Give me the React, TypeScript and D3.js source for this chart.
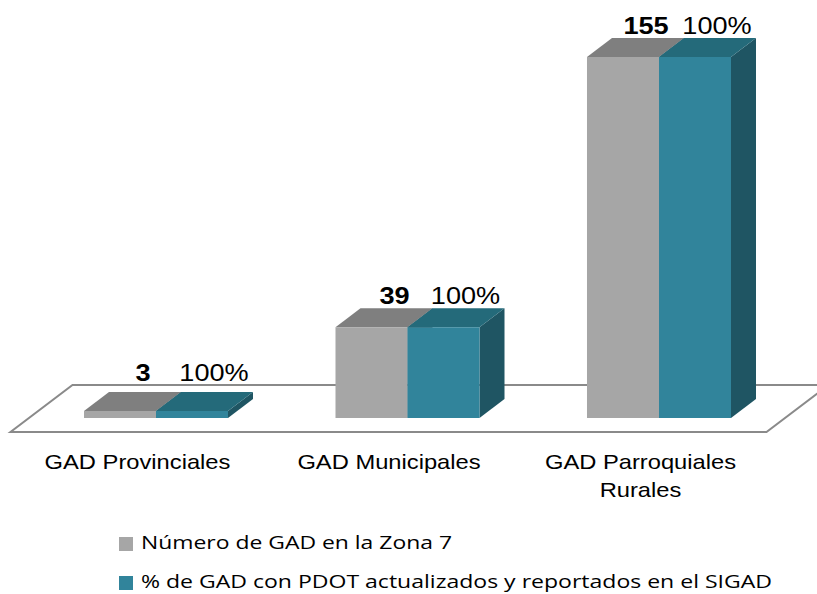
import React from "react";
import * as d3 from "d3";

const categories = ["GAD Provinciales", "GAD Municipales", "GAD Parroquiales Rurales"];
const categoryLines = [["GAD Provinciales"], ["GAD Municipales"], ["GAD Parroquiales", "Rurales"]];
const seriesNames = [
  "Número de GAD en la Zona 7",
  "% de GAD con PDOT actualizados y reportados en el SIGAD",
];
const countValues = [3, 39, 155];
const percentValues = [100, 100, 100];

const W = 817;
const H = 594;
const SX = 1.13; // horizontal stretch of the original rendering

const colors = {
  gray: { front: "#a6a6a6", top: "#7f7f7f", side: "#6b6b6b" },
  teal: { front: "#31849b", top: "#246a7a", side: "#1f5563" },
};

export default function App() {
  const x = d3.scaleBand<string>().domain(categories).range([84, 731]).paddingInner(0.4274).paddingOuter(0);
  const s = d3.scaleBand<number>().domain([0, 1]).range([0, x.bandwidth()]).padding(0);
  const y = d3.scaleLinear().domain([0, 155]).range([418, 57]);
  const DX = 25;
  const DY = 19;
  const proj = (px: number, py: number, z: number): [number, number] => [px + z * DX, py - z * DY];

  const base = y(0);
  const zFront = -0.74;
  const zBack = 1.74;
  const fx0 = 84 - 55;
  const fx1 = 731 + 54;
  const floorPts = [proj(fx0, base, zFront), proj(fx1, base, zFront), proj(fx1, base, zBack), proj(fx0, base, zBack)];
  const floorBackY = proj(0, base, zBack)[1];

  const line = d3.line();

  const bars: any[] = [];
  categories.forEach((c, i) => {
    const vals = [countValues[i], (countValues[i] * percentValues[i]) / 100];
    vals.forEach((v, k) => {
      const x0 = (x(c) as number) + (s(k) as number);
      const w = s.bandwidth();
      const yt = y(v);
      bars.push({ c, i, k, v, x0, w, yt });
    });
  });

  const barShapes = bars.map((b, idx) => {
    const col = b.k === 0 ? colors.gray : colors.teal;
    const front = [[b.x0, b.yt], [b.x0 + b.w, b.yt], [b.x0 + b.w, base], [b.x0, base]] as [number, number][];
    const top = [proj(b.x0, b.yt, 0), proj(b.x0 + b.w, b.yt, 0), proj(b.x0 + b.w, b.yt, 1), proj(b.x0, b.yt, 1)];
    const side = [proj(b.x0 + b.w, b.yt, 0), proj(b.x0 + b.w, b.yt, 1), proj(b.x0 + b.w, base, 1), proj(b.x0 + b.w, base, 0)];
    return (
      <g key={idx}>
        <path d={line(side) + "Z"} fill={col.side} />
        <path d={line(top) + "Z"} fill={col.top} />
        <path d={line(front) + "Z"} fill={col.front} />
      </g>
    );
  });

  const labels = bars.map((b, idx) => {
    const backTop = b.yt - DY;
    const ly = Math.min(backTop, floorBackY) - 4;
    const lx = b.x0 + b.w / 2 + (b.k === 0 ? 23 : 22);
    const txt = b.k === 0 ? String(countValues[b.i]) : `${percentValues[b.i]}%`;
    return (
      <g key={idx} transform={`translate(${lx},${ly}) scale(${SX},1)`}>
        <text
          textAnchor="middle"
          fontFamily="Liberation Sans, Arial, sans-serif"
          fontSize={24}
          fontWeight={b.k === 0 ? "bold" : "normal"}
          fill="#000"
        >
          {txt}
        </text>
      </g>
    );
  });

  const catLabels = categories.map((c, i) => {
    const cx = proj((x(c) as number) + x.bandwidth() / 2, base, zFront)[0];
    return (
      <g key={c} transform={`translate(${cx},469) scale(${SX},1)`}>
        {categoryLines[i].map((t, j) => (
          <text
            key={j}
            y={j * 28}
            textAnchor="middle"
            fontFamily="Liberation Sans, Arial, sans-serif"
            fontSize={21}
            fill="#000"
          >
            {t}
          </text>
        ))}
      </g>
    );
  });

  const legendY = [537, 576];
  const legendW = [311, 631];
  const legend = seriesNames.map((n, k) => (
    <g key={n}>
      <rect x={119} y={legendY[k]} width={14} height={14} fill={k === 0 ? colors.gray.front : colors.teal.front} />
      <text
        x={141}
        y={legendY[k] + 12}
        fontFamily="Open Sans, Noto Sans, sans-serif"
        fontSize={19}
        fill="#000"
        textLength={legendW[k]}
        lengthAdjust="spacingAndGlyphs"
      >
        {n}
      </text>
    </g>
  ));

  return (
    <div style={{ position: "absolute", left: 0, top: 0 }}>
      <svg width={W} height={H} style={{ display: "block", background: "#fff" }}>
        <path d={line(floorPts) + "Z"} fill="#fff" stroke="#8a8a8a" strokeWidth={2} />
        {barShapes}
        {labels}
        {catLabels}
        {legend}
      </svg>
    </div>
  );
}
